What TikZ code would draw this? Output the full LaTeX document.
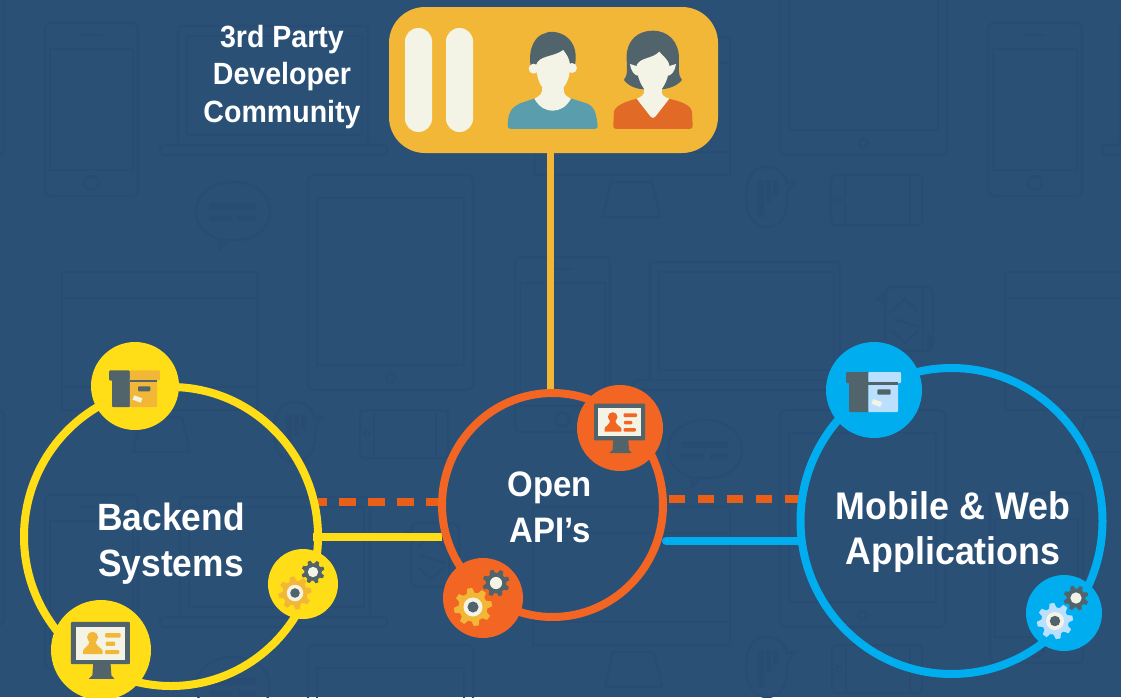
\documentclass[tikz,border=0pt]{standalone}
\usepackage{fontspec}
\usetikzlibrary{shapes.geometric,calc}
\setmainfont[FakeStretch=0.93,BoldFont={Liberation Sans Bold}]{Liberation Sans}
\pgfdeclarelayer{backlayer}
\pgfdeclarelayer{connlayer}
\pgfsetlayers{backlayer,connlayer,main}
\definecolor{bgc}{HTML}{2A5076}
\definecolor{bgl}{HTML}{284C73}
\definecolor{cyel}{HTML}{FFDD17}
\definecolor{cora}{HTML}{F26522}
\definecolor{cdash}{HTML}{EA5F17}
\definecolor{cblu}{HTML}{00AEEF}
\definecolor{cgold}{HTML}{F3B737}
\definecolor{ccream}{HTML}{F4F4E6}
\definecolor{cdark}{HTML}{51646B}
\definecolor{csky}{HTML}{BBDFFF}
\definecolor{cteal}{HTML}{5A9EAD}
\definecolor{cwom}{HTML}{E06A26}
\tikzset{
  ring/.style={ellipse,draw=#1,line width=8pt,inner sep=0pt,outer sep=0pt},
  disc/.style={circle,fill=#1,inner sep=0pt,outer sep=0pt},
  lbl/.style={text=white,align=center,font=\bfseries,inner sep=0pt},
  bgs/.style={draw=bgl,line width=2.2pt},
  pill/.style={rectangle,rounded corners=13.4pt,fill=ccream,minimum width=27pt,minimum height=104pt,inner sep=0pt},
  dashline/.style={cdash,line width=8pt,dash pattern=on 16.5pt off 12.5pt},
}
% --- faint background devices
\newcommand\bgphone[4]{\draw[bgs,rounded corners=5pt] (#1,#2) rectangle (#3,#4);
  \draw[bgs,line width=1.6pt] ({#1+5},{#2+26}) rectangle ({#3-5},{#4-26});
  \draw[bgs] ({(#1+#3)/2},{#4-13}) circle (7);
  \draw[bgs,line width=1.6pt] ({(#1+#3)/2-10},{#2+12}) -- ({(#1+#3)/2+10},{#2+12});}
\newcommand\bglaptop[6]{\draw[bgs,rounded corners=3pt] (#1,#4) |- (#3,#2) -- (#3,#4);
  \draw[bgs,line width=1.6pt] ({#1+9},{#2+10}) rectangle ({#3-6},{#4-10});
  \draw[bgs,rounded corners=4pt] (#5,#4) rectangle (#6,{#4+10});}
\newcommand\bgimac[6]{\draw[bgs] (#1,#2) rectangle (#3,#4);
  \draw[bgs] (#1,{#2+26}) -- (#3,{#2+26});
  \draw[bgs] (#1,{#4-23}) -- (#3,{#4-23});
  \draw[bgs,line join=round] ({#5+8},{#4+7}) -- ({#6-8},{#4+7}) -- (#6,{#4+42}) -- (#5,{#4+42}) -- cycle;}
\newcommand\bgtablet[4]{\draw[bgs,rounded corners=6pt] (#1,#2) rectangle (#3,#4);
  \draw[bgs,line width=1.6pt] ({#1+9},{#2+23}) rectangle ({#3-9},{#4-25});
  \draw[bgs] ({(#1+#3)/2},{#4-12}) circle (4.5);}
\newcommand\bgbubble[2]{\begin{scope}[shift={(#1,#2)}]
  \draw[bgs,line join=round] (-12,28) .. controls (-35,20) and (-38,5) .. (-37,-2) .. controls (-36,-22) and (-15,-30) .. (0,-30) .. controls (20,-30) and (37,-18) .. (37,0) .. controls (37,18) and (20,28) .. (5,28) -- (-12,28) -- (-14,38) -- (-5,28);
  \fill[bgl] (-24,-9) rectangle (23,-2) (-24,3) rectangle (-1,9) (5,3) rectangle (23,9);
  \end{scope}}
\newcommand\bgvbubble[2]{\begin{scope}[shift={(#1,#2)}]
  \draw[bgs,line join=round] (-1,-30) .. controls (15,-30) and (20,-18) .. (20,-13) -- (29,-16) -- (20,-5) .. controls (22,15) and (15,30) .. (0,30) .. controls (-15,30) and (-21,15) .. (-21,0) .. controls (-21,-18) and (-15,-30) .. (-1,-30);
  \fill[bgl] (-9,-17) rectangle (-3,20) (-1,-17) rectangle (4,5) (6,-17) rectangle (11,-2);
  \end{scope}}
\newcommand\bgland[4]{\draw[bgs,line width=2pt,rounded corners=4pt] (#1,#2) rectangle (#3,#4);
  \draw[bgs,line width=1.6pt] ({#1+14},#2) -- ({#1+14},#4) ({#3-12},#2) -- ({#3-12},#4);
  \draw[bgs,line width=1.4pt] ({#1+7},{(#2+#4)/2}) circle (3);}
\newcommand\bgrot[2]{\begin{scope}[shift={(#1,#2)}]
  \draw[bgs,rounded corners=7pt] (-20,22) -- (-20,-32) -- (28,-32) -- (28,32) -- (-20,32) -- (-20,24);
  \draw[bgs] (18,-32) -- (18,32);
  \draw[bgs] (-13,-8) -- (0,-20) -- (13,-8) (-13,12) -- (0,24) -- (13,12) (-11,0) -- (14,8);
  \fill[bgl] (-30,-20) -- (-18,-28) -- (-18,-12) -- cycle (32,22) -- (22,32) -- (22,14) -- cycle;
  \end{scope}}
% --- icons (all in pixel units round a centre)
\newcommand\boxicon[5]{\begin{scope}[shift={(#1,#2)},scale=#3]
  \fill[cdark,rounded corners=1pt] (-28,-18) rectangle (-5.7,-7);
  \fill[#4,rounded corners=1pt] (-5.7,-18) rectangle (27,-7);
  \fill[cdark,rounded corners=1pt] (-25,-8) rectangle (-5.7,22);
  \fill[#4,rounded corners=1pt] (-5.7,-8) rectangle (24,22);
  \fill[cdark] (-5.7,-8) rectangle (24,-5.5);
  \fill[cdark,rounded corners=1pt] (3.3,-.7) rectangle (16.7,4.7);
  \fill[#5,rotate around={-20:(2.7,13)}] (-2,10.5) rectangle (7.4,15.5);
  \end{scope}}
\newcommand\monicon[4]{\begin{scope}[shift={(#1,#2)},scale=#3]
  \fill[cdark,rounded corners=1pt] (-26,-24.3) rectangle (25,12.3);
  \fill[ccream] (-21.7,-20) rectangle (20.7,8.3);
  \fill[cdark] (-6.7,12) -- (8.3,12) -- (9,22) -- (11.7,25) -- (-10.7,25) -- (-7.5,22) -- cycle;
  \fill[#4] (-7.3,-11) circle (4.8);
  \fill[#4] (-15.5,3.5) -- (-15.5,.5) .. controls (-15,-2) and (-10.5,-2.5) .. (-9.7,-8) -- (-5,-8) .. controls (-4,-2.5) and (.5,-2) .. (1.3,.5) -- (1.3,3.5) -- cycle;
  \fill[#4,rounded corners=1pt] (3.5,-14.6) rectangle (17,-10.8) (4,-7.2) rectangle (12.3,-3.6) (3.5,0) rectangle (15.8,3.5);
  \end{scope}}
\newcommand\gearicon[6]{\begin{scope}[shift={(#1,#2)},scale=#3]
  \fill[#4] (0,0) circle (.76);
  \foreach \a in {0,45,...,315}{\fill[#4,rotate=\a+#6] (-.24,-.6) -- (-.13,-1) -- (.13,-1) -- (.24,-.6) -- cycle;}
  #5
  \end{scope}}
\newcommand\biggear[4]{\gearicon{#1}{#2}{#3}{#4}{\fill[ccream] (0,0) circle (.5);\fill[cdark] (0,0) circle (.29);}{10}}
\newcommand\smallgear[3]{\gearicon{#1}{#2}{#3}{cdark}{\fill[ccream] (0,0) circle (.45);}{20}}
\begin{document}
\begin{tikzpicture}[x=1pt,y=-1pt]
\useasboundingbox (0,0) rectangle (1121,697);
\begin{pgfonlayer}{backlayer}
\fill[bgc] (0,0) rectangle (1121,697);
\begin{scope}
\clip (0,0) rectangle (1121,697);
\bgphone{45}{23}{138}{196}
\bgphone{988}{23}{1082}{196}
\bgphone{515}{257}{610}{432}
\bgphone{45}{495}{138}{669}
\bgphone{990}{493}{1083}{663}
\bgphone{-88}{-18}{4}{155}
\bgphone{-88}{410}{4}{625}
\bglaptop{178}{26}{368}{145}{160}{387}
\bglaptop{180}{497}{370}{617}{160}{387}
\bglaptop{650}{262}{840}{380}{632}{860}
\bglaptop{1120}{26}{1310}{145}{1102}{1330}
\bgimac{62}{272}{257}{410}{133}{190}
\bgimac{1005}{272}{1200}{410}{1077}{1140}
\bgimac{533}{507}{730}{645}{605}{662}
\bgimac{535}{37}{730}{175}{603}{660}
\bgtablet{308}{175}{473}{390}
\bgtablet{780}{-70}{947}{155}
\bgtablet{780}{410}{945}{627}
\bgtablet{308}{645}{473}{860}
\bgbubble{233}{212}
\bgbubble{705}{450}
\bgbubble{233}{687}
\bgvbubble{295}{432}
\bgvbubble{767}{197}
\bgvbubble{767}{667}
\bgland{360}{410}{448}{458}
\bgland{831}{175}{922}{225}
\bgland{832}{645}{922}{693}
\bgrot{905}{319}
\bgrot{431}{555}
\end{scope}
\end{pgfonlayer}
% rings
\node[ring=cyel,minimum width=294pt,minimum height=299pt] (backend) at (171,536.5) {};
\node[ring=cora,minimum width=221pt,minimum height=224pt] (open) at (552.5,505) {};
\node[ring=cblu,minimum width=302pt,minimum height=306pt] (mobile) at (951.5,521) {};
% community box
\node[rectangle,rounded corners=36pt,fill=cgold,minimum width=329pt,minimum height=146pt,inner sep=0pt,outer sep=0pt] (community) at (553.5,80) {};
% connectors
\begin{pgfonlayer}{connlayer}
\draw[cgold,line width=7pt] ([xshift=-3.5pt]community.south) -- ([xshift=-2.5pt]open.north);
\draw[dashline,dash phase=7.7pt] (backend.east |- 0,501.5) -- (open.west |- 0,501.5);
\draw[cyel,line width=8pt] ([xshift=-5pt]backend.east) -- (open.west |- backend.east);
\draw[dashline,dash phase=23.3pt] (open.east |- 0,498.7) -- (mobile.west |- 0,498.7);
\draw[cblu,line width=8pt,line cap=round] ([xshift=3pt]open.east |- 0,541) -- ([xshift=1pt]mobile.west |- 0,541);
\end{pgfonlayer}
% discs
\node[disc=cyel,minimum size=88pt] (bbox) at (135,386) {};
\node[disc=cyel,minimum size=100pt] (bmon) at (101,650) {};
\node[disc=cyel,minimum size=70pt] (bgear) at (303,584) {};
\node[disc=cora,minimum size=86pt] (omon) at (620,428) {};
\node[disc=cora,minimum size=80pt] (ogear) at (483,598) {};
\node[disc=cblu,minimum size=96pt] (mbox) at (874,390) {};
\node[disc=cblu,minimum size=76pt] (mgear) at (1064,613) {};
% icons
\boxicon{135}{387}{.92}{cgold}{ccream}
\boxicon{874}{390}{1}{csky}{ccream}
\monicon{101}{650}{1.157}{cgold}
\monicon{620}{428}{1}{cora}
\biggear{295}{593}{16.5}{cgold}
\smallgear{313}{572}{11.5}
\biggear{473}{607}{19}{cgold}
\smallgear{496}{583}{13.5}
\biggear{1055}{621}{18}{csky}
\smallgear{1076}{598}{12.5}
% community contents
\node[pill] (p1) at (418.5,80) {};
\node[pill] (p2) at (459.5,80) {};
\begin{scope}[shift={(380,0)},x=.3333pt,y=-.3333pt]
 % man
 \fill[cteal] (383,375) .. controls (385,340) and (390,325) .. (420,310) -- (465,295) -- (572,295) -- (620,310) .. controls (645,320) and (648,340) .. (653,375) .. controls (654,385) and (650,387) .. (643,387) -- (393,387) .. controls (385,387) and (382,383) .. (383,375) -- cycle;
 \fill[cdark] (453,205) .. controls (441,140) and (470,105) .. (495,100) .. controls (515,86) and (602,100) .. (585,195) -- (572,215) -- (470,215) -- cycle;
 \fill[ccream] (463,296) .. controls (480,325) and (500,332) .. (518,332) .. controls (540,332) and (560,320) .. (573,296) .. controls (555,288) and (550,280) .. (551,262) .. controls (560,250) and (570,232) .. (570,200) .. controls (570,175) and (560,165) .. (550,150) .. controls (520,172) and (478,165) .. (468,195) .. controls (470,232) and (478,250) .. (487,262) .. controls (488,280) and (480,288) .. (463,296) -- cycle;
 \fill[ccream] (461,206) circle [radius=5pt] (576,204) circle [radius=5pt];
 % woman
 \fill[cwom] (700,375) -- (702,335) .. controls (705,320) and (730,305) .. (772,296) -- (866,296) .. controls (905,305) and (932,315) .. (936,335) -- (938,375) .. controls (938,385) and (934,387) .. (928,387) -- (710,387) .. controls (704,387) and (700,385) .. (700,375) -- cycle;
 \fill[cdark] (732,240) .. controls (745,225) and (740,200) .. (740,170) .. controls (740,120) and (775,92) .. (818,92) .. controls (865,92) and (897,125) .. (897,175) .. controls (897,205) and (893,225) .. (906,240) .. controls (890,260) and (860,268) .. (840,268) -- (795,268) .. controls (770,268) and (745,258) .. (732,240) -- cycle;
 \fill[ccream] (770,296) -- (812,350) .. controls (816,355) and (822,355) .. (826,350) -- (868,296) .. controls (850,290) and (842,285) .. (846,266) .. controls (858,250) and (868,225) .. (868,195) .. controls (866,180) and (850,170) .. (838,155) .. controls (815,178) and (785,170) .. (770,195) .. controls (770,225) and (780,250) .. (792,266) .. controls (796,285) and (785,290) .. (770,296) -- cycle;
 \fill[ccream] (750,192) .. controls (752,210) and (762,228) .. (778,228) -- (775,200) -- cycle;
 \fill[ccream] (888,192) .. controls (886,210) and (876,228) .. (860,228) -- (862,200) -- cycle;
\end{scope}
% labels
\node[lbl,font=\bfseries\fontsize{30.7}{37.5}\selectfont] (t1) at (282,77) {3rd Party\\Developer\\Community};
\node[lbl,font=\bfseries\fontsize{38}{46}\selectfont] (t2) at (171,544) {Backend\\Systems};
\node[lbl,font=\bfseries\fontsize{35.4}{46}\selectfont] (t3) at (550,507) {Open\\API’s};
\node[lbl,font=\bfseries\fontsize{38.5}{45}\selectfont] (t4) at (953,532) {Mobile \& Web\\Applications};
\end{tikzpicture}
\end{document}
